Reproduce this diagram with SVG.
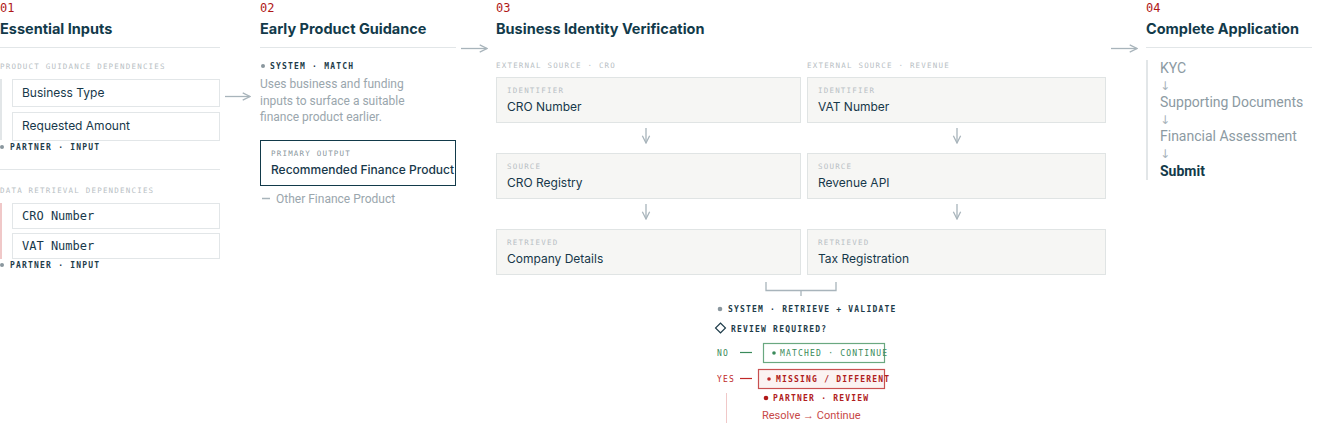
<svg xmlns="http://www.w3.org/2000/svg" width="1324" height="447" viewBox="0 0 1324 447">
<style>
.num{font-family:"DejaVu Sans Mono",monospace;font-size:12px;fill:#b01818}
.ttl{font-family:Inter,"Liberation Sans",sans-serif;font-size:14.5px;font-weight:700;fill:#123a4a}
.rule{stroke:#e2e6e8;stroke-width:1}
.cap{font-family:"DejaVu Sans Mono",monospace;font-size:7.5px;letter-spacing:1.2px;fill:#b8c0c4}
.tag{font-family:"DejaVu Sans Mono",monospace;font-size:8px;font-weight:700;letter-spacing:1.2px;fill:#1e3c4a}
.box{fill:#fff;stroke:#e2e6e8}
.gbox{fill:#f6f6f4;stroke:#e0e4e4}
.t{font-family:Inter,"Liberation Sans",sans-serif;font-size:12px;fill:#17384a}
.m{font-family:"DejaVu Sans Mono",monospace;font-size:12px;fill:#17384a}
.d{font-family:Roboto,"Liberation Sans",sans-serif;font-size:12px;fill:#9aa6ad}
.s4{font-family:Roboto,"Liberation Sans",sans-serif;font-size:14px;fill:#8c9aa2}
.ar{stroke:#a8b4bb;stroke-width:1.3;fill:none}
.dn{font-family:"DejaVu Sans",sans-serif;font-size:12px;fill:#a8b4bb}
</style>
<defs>
<marker id="ah" viewBox="0 0 10 10" refX="9" refY="5" markerWidth="7" markerHeight="7" orient="auto"><path d="M1,1 L9,5 L1,9" fill="none" stroke="#a8b4bb" stroke-width="1.4"/></marker>
</defs>
<g id="col1">
<text class="num" x="0" y="12">01</text>
<text class="ttl" x="0" y="34">Essential Inputs</text>
<line class="rule" x1="0" y1="47.5" x2="220" y2="47.5"/>
<text class="cap" x="0" y="69">PRODUCT GUIDANCE DEPENDENCIES</text>
<rect x="0" y="79" width="2" height="61" fill="#e2e6e8"/>
<rect class="box" x="12.5" y="79.5" width="207" height="27"/>
<text class="t" x="22" y="97">Business Type</text>
<rect class="box" x="12.5" y="112.5" width="207" height="28"/>
<text class="t" x="22" y="130">Requested Amount</text>
<circle cx="2" cy="147" r="2" fill="#8a979e"/>
<text class="tag" x="10" y="150">PARTNER · INPUT</text>
<line class="rule" x1="0" y1="169.5" x2="220" y2="169.5"/>
<text class="cap" x="0" y="193">DATA RETRIEVAL DEPENDENCIES</text>
<rect x="0" y="203" width="2" height="56" fill="#f0c8c8"/>
<rect class="box" x="12.5" y="203.5" width="207" height="25"/>
<text class="m" x="22" y="220">CRO Number</text>
<rect class="box" x="12.5" y="233.5" width="207" height="25"/>
<text class="m" x="22" y="250">VAT Number</text>
<circle cx="2" cy="265" r="2" fill="#8a979e"/>
<text class="tag" x="10" y="268">PARTNER · INPUT</text>
</g>
<g id="col2">
<text class="num" x="260" y="12">02</text>
<text class="ttl" x="260" y="34">Early Product Guidance</text>
<line class="rule" x1="260" y1="47.5" x2="456" y2="47.5"/>
<circle cx="263" cy="66" r="2" fill="#8a979e"/>
<text class="tag" x="270" y="69">SYSTEM · MATCH</text>
<text class="d" x="260" y="88">Uses business and funding</text>
<text class="d" x="260" y="105">inputs to surface a suitable</text>
<text class="d" x="260" y="121">finance product earlier.</text>
<rect x="260.5" y="140.5" width="195" height="45" fill="#fff" stroke="#123a4a"/>
<text class="cap" x="271" y="156" fill="#8a979e" style="fill:#8a979e">PRIMARY OUTPUT</text>
<text class="t" x="271" y="174" font-weight="500">Recommended Finance Product</text>
<line x1="262" y1="198.5" x2="270" y2="198.5" stroke="#a8b4bb" stroke-width="1.5"/>
<text class="d" x="276" y="203">Other Finance Product</text>
</g>
<g id="col3">
<text class="num" x="496" y="12">03</text>
<text class="ttl" x="496" y="34">Business Identity Verification</text>
<text class="cap" x="496" y="68">EXTERNAL SOURCE · CRO</text>
<text class="cap" x="807" y="68">EXTERNAL SOURCE · REVENUE</text>
<g id="cro">
<rect class="gbox" x="496.5" y="77.5" width="304" height="45"/>
<text class="cap" x="507" y="93">IDENTIFIER</text>
<text class="t" x="507" y="111">CRO Number</text>
<rect class="gbox" x="496.5" y="153.5" width="304" height="45"/>
<text class="cap" x="507" y="169">SOURCE</text>
<text class="t" x="507" y="187">CRO Registry</text>
<rect class="gbox" x="496.5" y="229.5" width="304" height="45"/>
<text class="cap" x="507" y="245">RETRIEVED</text>
<text class="t" x="507" y="263">Company Details</text>
</g>
<g id="rev">
<rect class="gbox" x="807.5" y="77.5" width="298" height="45"/>
<text class="cap" x="818" y="93">IDENTIFIER</text>
<text class="t" x="818" y="111">VAT Number</text>
<rect class="gbox" x="807.5" y="153.5" width="298" height="45"/>
<text class="cap" x="818" y="169">SOURCE</text>
<text class="t" x="818" y="187">Revenue API</text>
<rect class="gbox" x="807.5" y="229.5" width="298" height="45"/>
<text class="cap" x="818" y="245">RETRIEVED</text>
<text class="t" x="818" y="263">Tax Registration</text>
</g>
<g id="review">
<circle cx="720" cy="309" r="2.3" fill="#8a979e"/>
<text class="tag" x="728" y="312">SYSTEM · RETRIEVE + VALIDATE</text>
<rect x="717" y="324.5" width="7" height="7" fill="none" stroke="#1e3c4a" stroke-width="1.2" transform="rotate(45 720.5 328)"/>
<text class="tag" x="731" y="332">REVIEW REQUIRED?</text>
<text class="tag" x="717" y="356" style="fill:#3a8a5a;font-weight:400">NO</text>
<line x1="740" y1="352.5" x2="752" y2="352.5" stroke="#3a8a5a" stroke-width="1.2"/>
<rect x="763.5" y="343.5" width="121" height="19" fill="#fff" stroke="#6aa880" stroke-width="1.2"/>
<circle cx="774" cy="353" r="1.8" fill="#3a8a5a"/>
<text class="tag" x="780" y="356" style="fill:#3a8a5a;font-weight:400">MATCHED · CONTINUE</text>
<text class="tag" x="717" y="382" style="fill:#c02828;font-weight:400">YES</text>
<line x1="740" y1="378.5" x2="752" y2="378.5" stroke="#c02828" stroke-width="1.2"/>
<rect x="758.5" y="369.5" width="126" height="19" fill="#fbf3f2" stroke="#c85050" stroke-width="1.2"/>
<circle cx="769" cy="379" r="1.8" fill="#c02828"/>
<text class="tag" x="776" y="382" style="fill:#b02020">MISSING / DIFFERENT</text>
<line x1="726.5" y1="393" x2="726.5" y2="423" stroke="#f0c8c8" stroke-width="1"/>
<circle cx="766" cy="398" r="2.3" fill="#b01818"/>
<text class="tag" x="773" y="401" style="fill:#b02020">PARTNER · REVIEW</text>
<text class="d" x="762" y="419" style="fill:#c84848;font-size:11px">Resolve → Continue</text>
</g>
</g>
<g id="col4">
<text class="num" x="1146" y="12">04</text>
<text class="ttl" x="1146" y="34">Complete Application</text>
<line class="rule" x1="1146" y1="47.5" x2="1312" y2="47.5"/>
<rect x="1146" y="60" width="2" height="120" fill="#e2e6e8"/>
<text class="s4" x="1160" y="73">KYC</text>
<text class="dn" x="1160" y="90" font-size="9">↓</text>
<text class="s4" x="1160" y="107">Supporting Documents</text>
<text class="dn" x="1160" y="124" font-size="9">↓</text>
<text class="s4" x="1160" y="141">Financial Assessment</text>
<text class="dn" x="1160" y="158" font-size="9">↓</text>
<text class="s4" x="1160" y="176" style="fill:#123a4a;font-weight:700">Submit</text>
</g>
<g id="connectors">
<line class="ar" x1="225" y1="96.5" x2="250" y2="96.5" marker-end="url(#ah)"/>
<line class="ar" x1="461" y1="48.5" x2="487" y2="48.5" marker-end="url(#ah)"/>
<line class="ar" x1="1111" y1="48.5" x2="1137" y2="48.5" marker-end="url(#ah)"/>
<line class="ar" x1="646" y1="128" x2="646" y2="143" stroke-width="1" marker-end="url(#ah)"/>
<line class="ar" x1="646" y1="204" x2="646" y2="219" stroke-width="1" marker-end="url(#ah)"/>
<line class="ar" x1="957" y1="128" x2="957" y2="143" stroke-width="1" marker-end="url(#ah)"/>
<line class="ar" x1="957" y1="204" x2="957" y2="219" stroke-width="1" marker-end="url(#ah)"/>
<path class="ar" d="M766,282 V290.5 H836 V282 M801,290.5 V296"/>
</g>
</svg>
